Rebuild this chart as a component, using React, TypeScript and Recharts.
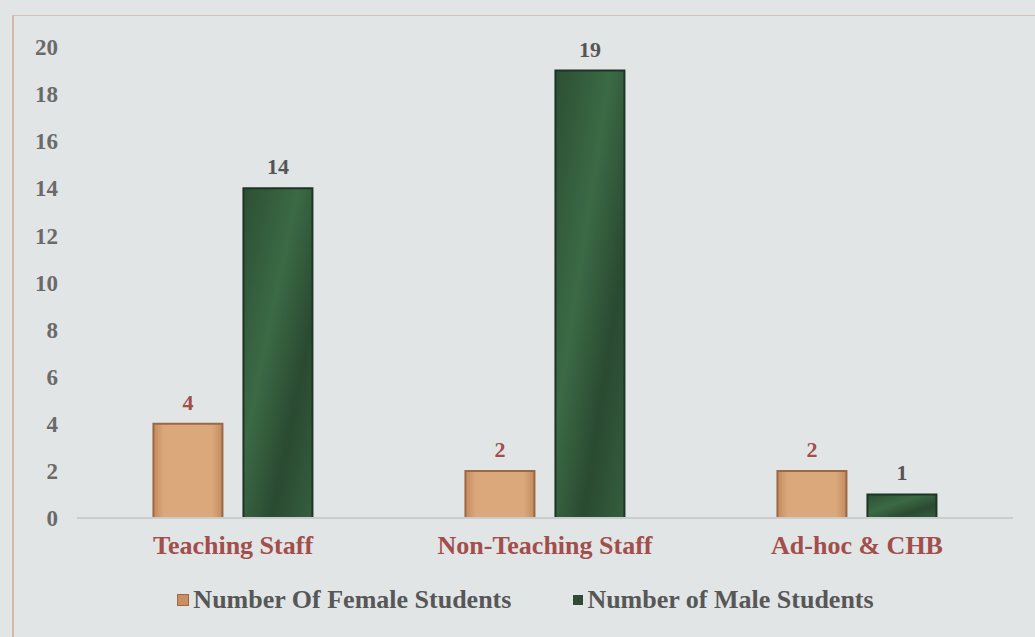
import React from 'react';
import { BarChart, Bar, XAxis, YAxis, Legend, LabelList } from 'recharts';

const categories = ['Teaching Staff', 'Non-Teaching Staff', 'Ad-hoc & CHB'];
const femaleStudents = [4, 2, 2];
const maleStudents = [14, 19, 1];
const yTicks = [0, 2, 4, 6, 8, 10, 12, 14, 16, 18, 20];

const chartData = categories.map((name, i) => ({
    name,
    female: femaleStudents[i],
    male: maleStudents[i],
}));

const serif = "'Times New Roman', 'Liberation Serif', Tinos, 'DejaVu Serif', serif";

const LegendContent = () => (
    <div style={{ display: 'flex', justifyContent: 'center', gap: 62, fontFamily: serif, fontWeight: 'bold', fontSize: 26, color: '#575757', paddingLeft: 16 }}>
        <span style={{ display: 'flex', alignItems: 'center' }}>
            <span style={{ width: 10, height: 10, background: '#c98f62', border: '1px solid #9a6844', marginRight: 4 }} />
            Number Of Female Students
        </span>
        <span style={{ display: 'flex', alignItems: 'center' }}>
            <span style={{ width: 10, height: 10, background: '#2f4a35', marginRight: 4 }} />
            Number of Male Students
        </span>
    </div>
);

const App: React.FC = () => {
    return (
        <div style={{ position: 'fixed', left: 0, top: 0, width: 1035, height: 637, background: '#e1e5e6' }}>
            <div style={{ position: 'absolute', left: 12, top: 15, right: 0, bottom: 0, borderLeft: '2px solid #d2b8a6', borderTop: '1px solid #d6c2b4' }} />
            <BarChart
                width={1035}
                height={637}
                data={chartData}
                margin={{ top: 47, right: 22, bottom: 0, left: 0 }}
                barCategoryGap="24.5%"
                barGap={21}
                style={{ position: 'absolute', left: 0, top: 0 }}
            >
                <defs>
                    <linearGradient id="femaleFill" x1="0" y1="0" x2="1" y2="0">
                        <stop offset="0%" stopColor="#c48b5f" />
                        <stop offset="15%" stopColor="#dba87b" />
                        <stop offset="85%" stopColor="#dba87b" />
                        <stop offset="100%" stopColor="#c48b5f" />
                    </linearGradient>
                    <linearGradient id="maleFill" x1="0" y1="0" x2="1" y2="1">
                        <stop offset="0%" stopColor="#2c4f33" />
                        <stop offset="40%" stopColor="#3b6a45" />
                        <stop offset="70%" stopColor="#2a4a31" />
                        <stop offset="100%" stopColor="#355e3e" />
                    </linearGradient>
                </defs>
                <XAxis
                    dataKey="name"
                    height={119}
                    tickLine={false}
                    axisLine={{ stroke: '#c9cdce', strokeWidth: 2 }}
                    tickMargin={12}
                    tick={{ fill: '#a24e4b', fontFamily: serif, fontWeight: 'bold', fontSize: 26 }}
                    interval={0}
                />
                <YAxis
                    width={77}
                    domain={[0, 20]}
                    ticks={yTicks}
                    axisLine={false}
                    tickLine={false}
                    tickSize={0}
                    tickMargin={19}
                    tick={{ fill: '#6a6a6a', fontFamily: serif, fontWeight: 'bold', fontSize: 23 }}
                />
                <Legend
                    verticalAlign="middle"
                    layout="horizontal"
                    wrapperStyle={{ top: 585, left: 0, width: 1035 }}
                    content={<LegendContent />}
                />
                <Bar dataKey="female" fill="url(#femaleFill)" stroke="#9c6843" strokeWidth={2} isAnimationActive={false}>
                    <LabelList dataKey="female" position="top" offset={14} fill="#a24e4b" fontFamily={serif} fontWeight="bold" fontSize={22} />
                </Bar>
                <Bar dataKey="male" fill="url(#maleFill)" stroke="#1f3524" strokeWidth={2} isAnimationActive={false}>
                    <LabelList dataKey="male" position="top" offset={14} fill="#555555" fontFamily={serif} fontWeight="bold" fontSize={22} />
                </Bar>
            </BarChart>
        </div>
    );
};

export default App;
